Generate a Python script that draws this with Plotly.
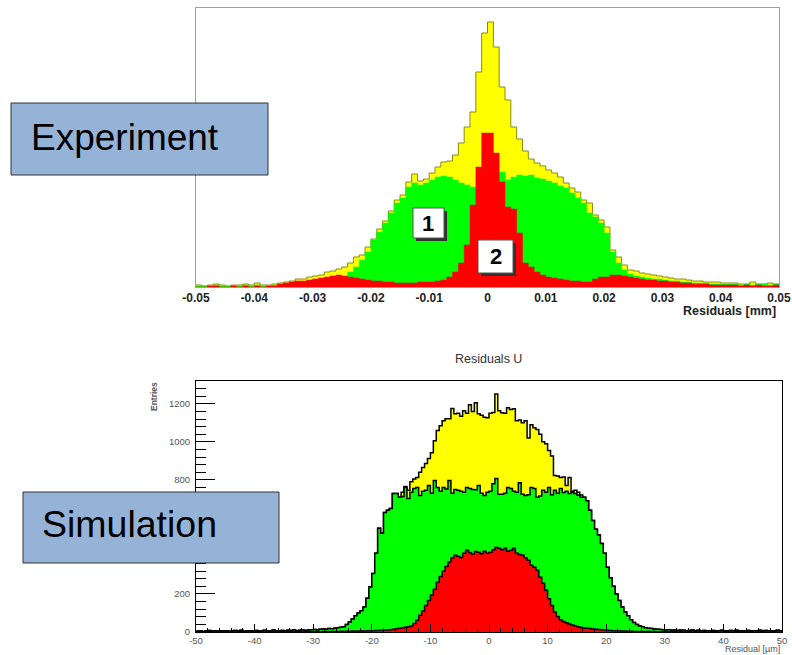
import numpy as np
import plotly.graph_objects as go

W, H = 792, 655
FONT = "Liberation Sans, Arial, sans-serif"

# ---------------- Experiment: residuals, 100 bins over [-0.05, 0.05] mm ----------------
exp_range = (-0.05, 0.05)
exp_all = [
    2, 1, 2, 3, 2, 1, 2, 2, 3, 2,
    4, 2, 2, 3, 4, 5, 6, 8, 8, 10,
    11, 12, 15, 16, 18, 20, 24, 30, 32, 40,
    48, 58, 66, 76, 87, 92, 105, 113, 106, 108,
    114, 120, 125, 126, 132, 144, 160, 175, 215, 254,
    265, 240, 200, 187, 160, 148, 136, 128, 124, 121,
    117, 114, 110, 104, 99, 95, 87, 84, 72, 67,
    60, 37, 30, 22, 17, 16, 14, 13, 12, 11,
    10, 9, 8, 8, 7, 6, 6, 5, 5, 5,
    4, 4, 4, 3, 3, 5, 3, 3, 4, 3,
]
exp_type1 = [
    1, 1, 1, 2, 1, 1, 1, 1, 2, 1,
    2, 1, 1, 2, 2, 3, 4, 4, 5, 5,
    6, 6, 7, 7, 8, 9, 15, 20, 27, 35,
    47, 55, 64, 74, 84, 89, 100, 104, 102, 104,
    107, 110, 111, 110, 107, 104, 102, 100, 98, 95,
    100, 110, 115, 107, 110, 112, 111, 112, 109, 108,
    106, 104, 101, 99, 94, 89, 84, 74, 70, 64,
    54, 35, 24, 17, 13, 11, 10, 9, 8, 8,
    7, 6, 6, 5, 5, 4, 4, 4, 3, 3,
    3, 3, 3, 2, 3, 2, 3, 3, 2, 3,
]
exp_type2 = [
    0, 0, 1, 1, 0, 0, 1, 0, 1, 0,
    1, 0, 1, 1, 3, 4, 5, 6, 6, 7,
    8, 9, 10, 11, 12, 11, 10, 9, 8, 7,
    6, 6, 5, 5, 4, 4, 4, 4, 5, 5,
    5, 6, 7, 10, 15, 24, 42, 82, 120, 154,
    154, 134, 105, 80, 78, 54, 24, 20, 15, 12,
    10, 9, 8, 7, 6, 6, 5, 5, 8, 10,
    10, 12, 12, 11, 10, 9, 8, 7, 7, 6,
    6, 5, 5, 4, 4, 3, 3, 3, 2, 2,
    2, 2, 2, 1, 2, 1, 2, 1, 1, 2,
]
exp_tickvals = [-0.05, -0.04, -0.03, -0.02, -0.01, 0, 0.01, 0.02, 0.03, 0.04, 0.05]
exp_ticktext = ["-0.05", "-0.04", "-0.03", "-0.02", "-0.01", "0",
                "0.01", "0.02", "0.03", "0.04", "0.05"]

# ---------------- Simulation: residuals U, 200 bins over [-50, 50] um ----------------
sim_range = (-50, 50)
sim_type1 = [
    4, 6, 3, 5, 8, 5, 7, 4, 6, 5,
    7, 4, 6, 8, 5, 9, 4, 7, 6, 5,
    8, 6, 5, 9, 7, 6, 10, 5, 7, 8,
    6, 9, 8, 10, 7, 9, 11, 8, 10, 12,
    13, 11, 14, 16, 15, 18, 17, 20, 22, 25,
    28, 40, 52, 68, 85, 100, 112, 131, 178, 236,
    307, 414, 545, 519, 629, 640, 650, 729, 729, 708,
    712, 760, 702, 735, 755, 760, 718, 740, 745, 770,
    730, 797, 760, 740, 760, 752, 797, 730, 750, 745,
    740, 735, 760, 755, 750, 748, 770, 730, 718, 735,
    740, 780, 807, 725, 725, 730, 760, 755, 740, 735,
    785, 725, 718, 722, 760, 755, 708, 715, 745, 735,
    760, 722, 745, 730, 755, 734, 740, 729, 735, 729,
    720, 708, 708, 690, 640, 587, 540, 510, 466, 414,
    340, 285, 240, 200, 165, 131, 105, 85, 65, 50,
    40, 32, 27, 23, 20, 18, 16, 15, 13, 12,
    11, 12, 9, 10, 8, 11, 9, 7, 8, 10,
    7, 9, 6, 8, 7, 6, 8, 5, 7, 9,
    6, 5, 8, 6, 9, 7, 5, 6, 8, 5,
    7, 6, 9, 5, 8, 6, 7, 5, 9, 6,
]
sim_all = [
    4, 6, 3, 5, 8, 5, 7, 4, 6, 5,
    7, 4, 6, 8, 5, 9, 4, 7, 6, 5,
    8, 6, 5, 9, 7, 6, 10, 5, 7, 8,
    6, 9, 8, 10, 7, 9, 11, 8, 10, 12,
    13, 11, 14, 16, 15, 18, 17, 20, 22, 25,
    28, 40, 52, 68, 85, 100, 112, 131, 178, 236,
    307, 414, 545, 519, 629, 640, 650, 729, 729, 708,
    735, 765, 745, 790, 805, 812, 840, 865, 886, 912,
    943, 1006, 1060, 1085, 1111, 1121, 1121, 1176, 1148, 1150,
    1135, 1163, 1150, 1195, 1160, 1206, 1148, 1140, 1130, 1127,
    1150, 1155, 1252, 1163, 1153, 1150, 1179, 1170, 1174, 1111,
    1115, 1101, 1111, 1020, 1090, 1074, 1065, 1040, 1000, 990,
    954, 925, 823, 820, 812, 815, 770, 812, 740, 745,
    735, 720, 708, 690, 640, 587, 540, 510, 466, 414,
    340, 285, 240, 200, 165, 131, 105, 85, 65, 50,
    40, 32, 27, 23, 20, 18, 16, 15, 13, 12,
    11, 12, 9, 10, 8, 11, 9, 7, 8, 10,
    7, 9, 6, 8, 7, 6, 8, 5, 7, 9,
    6, 5, 8, 6, 9, 7, 5, 6, 8, 5,
    7, 6, 9, 5, 8, 6, 7, 5, 9, 6,
]
sim_type2 = [
    0, 1, 0, 0, 1, 0, 0, 1, 0, 1,
    0, 0, 1, 0, 0, 1, 0, 0, 0, 1,
    0, 1, 0, 0, 1, 0, 1, 0, 0, 1,
    0, 1, 1, 0, 2, 1, 0, 1, 2, 1,
    1, 2, 1, 2, 3, 2, 3, 2, 3, 4,
    3, 4, 3, 5, 4, 5, 6, 5, 6, 7,
    7, 8, 8, 9, 10, 11, 12, 14, 17, 20,
    22, 25, 28, 32, 45, 62, 88, 110, 140, 165,
    195, 225, 262, 292, 320, 345, 368, 390, 404, 398,
    392, 414, 430, 418, 410, 424, 419, 412, 425, 414,
    420, 432, 445, 440, 432, 440, 425, 430, 440, 414,
    408, 404, 390, 377, 351, 340, 325, 288, 257, 220,
    175, 140, 105, 82, 65, 55, 48, 42, 37, 32,
    27, 24, 21, 20, 18, 16, 14, 13, 12, 10,
    9, 8, 7, 7, 6, 5, 5, 4, 4, 3,
    3, 2, 3, 2, 2, 1, 2, 1, 1, 2,
    1, 0, 1, 1, 0, 1, 0, 0, 1, 0,
    1, 0, 0, 1, 0, 0, 1, 0, 0, 0,
    1, 0, 0, 0, 1, 0, 0, 0, 0, 1,
    0, 0, 1, 0, 0, 0, 1, 0, 0, 0,
]
sim_xtickvals = [-50, -40, -30, -20, -10, 0, 10, 20, 30, 40, 50]
sim_xticktext = ["-50", "-40", "-30", "-20", "-10", "0", "10", "20", "30", "40", "50"]
# 400 and 600 sit behind the "Simulation" caption box, so they carry no label
sim_ytickvals = [0, 200, 400, 600, 800, 1000, 1200]
sim_yticktext = ["0", "200", "", "", "800", "1000", "1200"]

YELLOW, GREEN, RED = "#ffff00", "#00ff00", "#ff0000"


def px(x):
    return x / W


def py(y):
    return 1 - y / H


def step(edges, vals, fill, lcolor, lwidth, xa, ya):
    yv = list(vals) + [vals[-1]]
    return go.Scatter(x=edges, y=yv, mode="lines",
                      line=dict(shape="hv", color=lcolor, width=lwidth),
                      fill="tozeroy", fillcolor=fill, xaxis=xa, yaxis=ya,
                      hoverinfo="skip", showlegend=False)


exp_edges = np.linspace(exp_range[0], exp_range[1], len(exp_all) + 1)
sim_edges = np.linspace(sim_range[0], sim_range[1], len(sim_all) + 1)

fig = go.Figure()
# experiment histograms: all tracks, type 1, type 2
fig.add_trace(step(exp_edges, exp_all, YELLOW, "#8a8a10", 1, "x", "y"))
fig.add_trace(step(exp_edges, exp_type1, GREEN, GREEN, 0.5, "x", "y"))
fig.add_trace(step(exp_edges, exp_type2, RED, RED, 0.5, "x", "y"))
# simulation histograms
fig.add_trace(step(sim_edges, sim_all, YELLOW, "black", 1.5, "x2", "y2"))
fig.add_trace(step(sim_edges, sim_type1, GREEN, "black", 1.5, "x2", "y2"))
fig.add_trace(step(sim_edges, sim_type2, RED, "black", 1.5, "x2", "y2"))

gray_frame = "#a0a0a0"
fig.update_layout(
    width=W, height=H, margin=dict(l=0, r=0, t=0, b=0, autoexpand=False),
    paper_bgcolor="white", plot_bgcolor="white",
    font=dict(family=FONT),
    xaxis=dict(domain=[px(196), px(779)], range=list(exp_range),
               tickvals=exp_tickvals, ticktext=exp_ticktext,
               tickfont=dict(size=12, color="#222", weight="bold"),
               ticks="", showgrid=False, zeroline=False,
               showline=True, linecolor=gray_frame, linewidth=1, mirror=True,
               automargin=False, anchor="y"),
    yaxis=dict(domain=[py(287), py(8)], range=[0, 279],
               showticklabels=False, ticks="", showgrid=False, zeroline=False,
               showline=True, linecolor=gray_frame, linewidth=1, mirror=True,
               automargin=False, anchor="x"),
    xaxis2=dict(domain=[px(196), px(782)], range=list(sim_range),
                tickvals=sim_xtickvals, ticktext=sim_xticktext,
                tickfont=dict(size=9.5, color="#555"), ticklabelstandoff=0,
                ticks="inside", ticklen=8, tickcolor="black", tickwidth=1,
                minor=dict(dtick=2, ticks="inside", ticklen=4, tickcolor="black"),
                showgrid=False, zeroline=False,
                showline=True, linecolor="black", linewidth=1, mirror=True,
                automargin=False, anchor="y2"),
    yaxis2=dict(domain=[py(632), py(381)], range=[0, 1320],
                tickvals=sim_ytickvals, ticktext=sim_yticktext,
                tickfont=dict(size=9.5, color="#555"), ticklabelstandoff=3,
                ticks="inside", ticklen=19, tickcolor="black", tickwidth=1,
                minor=dict(dtick=40, ticks="inside", ticklen=10, tickcolor="black"),
                showgrid=False, zeroline=False,
                showline=True, linecolor="black", linewidth=1, mirror=True,
                automargin=False, anchor="x2"),
)

shapes = []
annotations = []


def rect(x0, y0, x1, y1, fill, line_color, lw):
    shapes.append(dict(type="rect", xref="paper", yref="paper",
                       x0=px(x0), x1=px(x1), y0=py(y1), y1=py(y0),
                       fillcolor=fill, line=dict(color=line_color, width=lw),
                       layer="above"))


def text(x, y, s, size, color="black", xanchor="center", yanchor="middle",
         weight="normal", angle=0):
    annotations.append(dict(xref="paper", yref="paper", x=px(x), y=py(y), text=s,
                            showarrow=False, xanchor=xanchor, yanchor=yanchor,
                            textangle=angle,
                            font=dict(family=FONT, size=size, color=color, weight=weight)))


# labelled boxes for the two track classes
rect(416, 211, 447, 241, "#303030", "#303030", 0)
rect(413, 208, 444, 238, "white", "#555", 1)
text(428.5, 223, "1", 22, weight="bold")
rect(481, 243, 516, 276, "#303030", "#303030", 0)
rect(478, 240, 513, 273, "white", "#555", 1)
text(495.5, 256.5, "2", 22, weight="bold")

# axis captions
text(778, 311, "Residuals [mm]", 12.5, color="#222", xanchor="right", weight="bold")
text(488, 359, "Residuals U", 12.5, color="#333")
text(154, 397, "Entries", 8.5, color="#555", weight="bold", angle=-90)
text(782, 649, "Residual [\u00b5m]", 9, color="#555", xanchor="right")

# panel captions
rect(11, 103, 268, 175, "#95b3d7", "#333", 1)
text(29, 137, "Experiment", 37, xanchor="left")
rect(23, 492, 279, 563, "#95b3d7", "#333", 1)
text(40, 524, "Simulation", 37.5, xanchor="left")

fig.update_layout(shapes=shapes, annotations=annotations)
fig.write_html("out.html")
